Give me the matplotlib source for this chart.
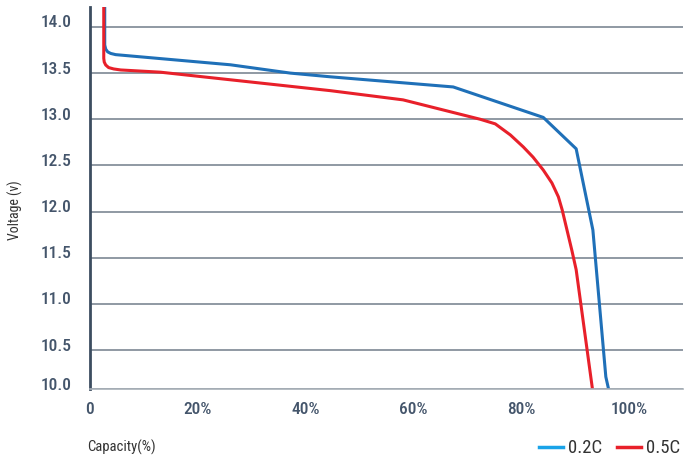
#!/usr/bin/env python3
"""Discharge curves, 0.2C vs 0.5C."""

import matplotlib.pyplot as plt
from matplotlib.lines import Line2D
from matplotlib.transforms import ScaledTranslation

plt.rcParams['font.family'] = ['Roboto Condensed', 'Liberation Sans Narrow', 'Roboto',
                               'DejaVu Sans']

# 0.2C discharge (capacity %, voltage)
cap_02c = [2.78, 2.78, 2.96, 3.33, 3.89, 4.81, 26.1, 37.2, 44.6, 67.4, 84.1, 90.2,
           93.3, 95.7, 96.5]
volt_02c = [14.4, 13.805, 13.76, 13.73, 13.713, 13.70, 13.59, 13.50, 13.46, 13.35,
            13.02, 12.68, 11.80, 10.21, 10.0]

# 0.5C discharge
cap_05c = [2.6, 2.6, 2.69, 2.96, 3.5, 4.44, 5.74, 13.1, 44.6, 58.1, 72.4, 75.2, 78.0,
           80.4, 82.2, 84.1, 85.7, 86.9, 87.6, 88.5, 89.4, 90.2, 93.4]
volt_05c = [14.4, 13.66, 13.62, 13.588, 13.56, 13.545, 13.534, 13.51, 13.31, 13.21,
            13.0, 12.95, 12.83, 12.70, 12.59, 12.45, 12.31, 12.16, 12.02, 11.80, 11.58,
            11.37, 10.0]

x_ticks = [0, 20, 40, 60, 80, 100]
x_labels = ['0', '20%', '40%', '60%', '80%', '100%']
y_ticks = [10.077, 10.5, 11.0, 11.5, 12.0, 12.5, 13.0, 13.5, 14.0]
y_labels = ['10.0', '10.5', '11.0', '11.5', '12.0', '12.5', '13.0', '13.5', '14.0']

TICK = '#44556b'
DARK = '#333333'

fig = plt.figure(figsize=(6.85, 4.61), dpi=100)
ax = fig.add_axes([0.131, 0.156, 0.866, 0.829])

ax.plot(cap_02c, volt_02c, color='#1f70b8', lw=2.2, solid_capstyle='butt')
ax.plot(cap_05c, volt_05c, color='#e8202a', lw=2.2, solid_capstyle='butt')

ax.set_xlim(0, 110)
ax.set_ylim(10.077, 14.217)

ax.set_xticks(x_ticks)
ax.set_xticklabels(x_labels, fontweight='medium')
ax.set_yticks(y_ticks)
ax.set_yticklabels(y_labels, fontweight='medium')
ax.tick_params(axis='both', length=0, labelsize=12.5, labelcolor=TICK)
ax.tick_params(axis='x', pad=9)
ax.tick_params(axis='y', pad=13)

# labels sit a little above their grid lines
shift = ScaledTranslation(0, 0.055, fig.dpi_scale_trans)
for lab in ax.get_yticklabels():
    lab.set_transform(lab.get_transform() + shift)

ax.yaxis.grid(True, color='#7d8894', lw=1.2)
ax.set_axisbelow(True)

for side in ['top', 'right']:
    ax.spines[side].set_visible(False)
ax.spines['left'].set_color('#3c4d60')
ax.spines['left'].set_linewidth(2)
ax.spines['bottom'].set_color('#a8b0b8')
ax.spines['bottom'].set_linewidth(1.2)

fig.text(0.127, 0.012, 'Capacity(%)', fontsize=10.5, color=DARK, ha='left', va='bottom')
fig.text(0.022, 0.545, 'Voltage (v)', fontsize=10, color=DARK, rotation=90,
         ha='center', va='center')

handles = [Line2D([], [], color='#1aa3e8', lw=2.5),
           Line2D([], [], color='#e8202a', lw=2.5)]
fig.legend(handles, ['0.2C', '0.5C'], loc='lower right', bbox_to_anchor=(0.999, 0.0),
           ncol=2, frameon=False, fontsize=13.5, handlelength=1.25, handletextpad=0.3,
           columnspacing=0.8, labelcolor=DARK, borderpad=0.2, borderaxespad=0)

plt.savefig('out.png', dpi=100)
